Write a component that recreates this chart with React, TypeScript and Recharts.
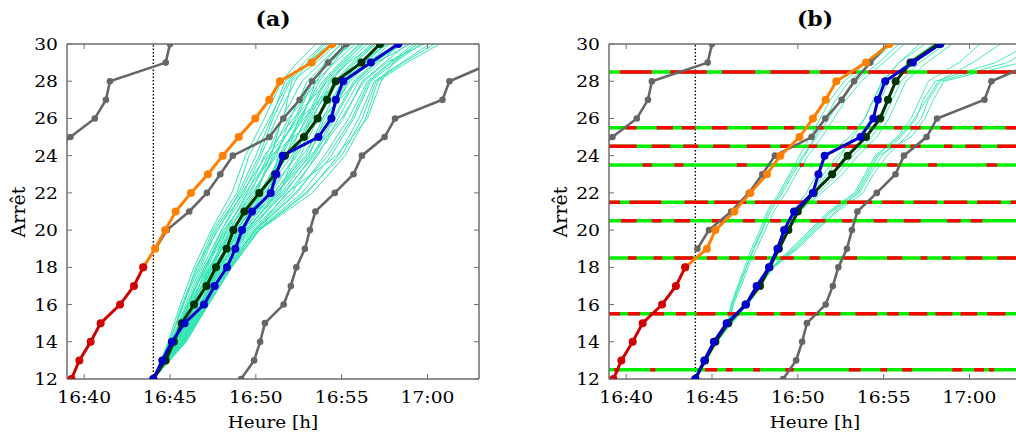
import React from 'react';
import { LineChart, Line, XAxis, YAxis } from 'recharts';

// ---------- data ----------
const ALL_STOPS = [12, 13, 14, 15, 16, 17, 18, 19, 20, 21, 22, 23, 24, 25, 26, 27, 28, 29, 30];
const STOP_TICKS = [12, 14, 16, 18, 20, 22, 24, 26, 28, 30];
const TIME_TICKS = [40, 45, 50, 55, 60]; // minutes after 16:00
const NOW = 44.03;

const GREY_LEFT_STOPS = [24, 25, 26, 27, 28, 29, 30];
const GREY_LEFT = [37.9, 39.2, 40.62, 41.27, 41.5, 44.75, 45.0];
const GREY_MID_STOPS = [19, 20, 21, 22, 23, 24, 25, 26, 27, 28, 29, 30];
const GREY_MID = [44.15, 44.82, 46.12, 47.15, 47.93, 48.66, 50.8, 51.6, 52.55, 53.28, 54.22, 55.27];
const GREY_RIGHT_STOPS = [12, 13, 14, 15, 16, 17, 18, 19, 20, 21, 22, 23, 24, 25, 26, 27, 28, 29];
const GREY_RIGHT = [49.14, 49.9, 50.25, 50.53, 51.62, 52.04, 52.36, 52.86, 53.15, 53.47, 54.6, 55.69, 56.18, 57.5, 58.11, 60.87, 61.28, 63.8];

const RED_STOPS = [12, 13, 14, 15, 16, 17, 18];
const RED_TIMES = [39.26, 39.72, 40.38, 40.96, 42.09, 42.9, 43.44];
const ORANGE_STOPS = [18, 19, 20, 21, 22, 23, 24, 25, 26, 27, 28, 29, 30];
const ORANGE_A = [43.44, 44.13, 44.72, 45.33, 46.22, 47.21, 48.07, 49.0, 49.97, 50.78, 51.4, 53.25, 54.45];
const ORANGE_B = [43.44, 44.7, 45.2, 46.3, 47.23, 48.2, 48.98, 50.1, 50.88, 51.62, 52.24, 53.97, 55.34];

const BLUE_TIMES = [44.03, 44.55, 45.11, 45.85, 46.98, 47.6, 48.32, 48.81, 49.2, 49.78, 50.87, 51.2, 51.56, 53.65, 54.4, 54.66, 55.09, 56.7, 58.3];
const BLACK_A = [44.03, 44.75, 45.23, 45.68, 46.4, 47.13, 47.68, 48.3, 48.69, 49.33, 50.2, 51.12, 51.7, 52.8, 53.6, 54.15, 54.65, 56.15, 57.23];
const BLACK_B = [44.03, 44.6, 45.2, 45.95, 46.95, 47.8, 48.35, 48.9, 49.45, 50.0, 50.93, 52.0, 52.9, 53.97, 54.8, 55.25, 55.7, 56.56, 58.15];

const TEAL_A_STOPS = [12, 14, 16, 18, 20, 22, 24, 26, 28, 29, 30];
const TEAL_A = [
  [44.03, 44.9, 45.6, 46.4, 47.4, 48.6, 49.4, 50.5, 51.5, 52.4, 53.5],
  [44.03, 45.0, 45.7, 46.6, 47.5, 48.9, 49.6, 50.8, 51.9, 52.8, 53.9],
  [44.03, 44.95, 45.8, 46.5, 47.8, 49.0, 50.0, 50.9, 51.7, 53.1, 54.2],
  [44.03, 45.1, 45.9, 46.8, 47.7, 49.3, 50.3, 51.2, 52.3, 53.0, 54.4],
  [44.03, 45.05, 46.0, 46.9, 48.0, 49.2, 50.6, 51.6, 52.1, 53.5, 54.7],
  [44.03, 45.2, 46.1, 47.0, 48.2, 49.6, 50.9, 51.5, 52.7, 53.8, 55.0],
  [44.03, 45.15, 46.2, 47.2, 48.1, 49.8, 51.2, 52.0, 53.0, 54.1, 55.3],
  [44.03, 45.3, 46.3, 47.1, 48.4, 50.0, 51.0, 52.4, 53.3, 54.3, 55.6],
  [44.03, 45.25, 46.3, 47.4, 48.6, 50.2, 51.5, 52.7, 53.5, 54.6, 55.8],
  [44.03, 45.4, 46.4, 47.5, 48.5, 50.4, 51.8, 52.5, 53.9, 54.9, 56.0],
  [44.03, 45.35, 46.5, 47.3, 48.8, 50.6, 51.7, 53.0, 54.1, 55.1, 56.3],
  [44.03, 45.5, 46.6, 47.6, 48.9, 50.5, 52.1, 53.3, 54.4, 55.3, 56.5],
  [44.03, 45.45, 46.5, 47.7, 49.1, 50.9, 52.3, 53.2, 54.6, 55.6, 56.7],
  [44.03, 45.6, 46.7, 47.8, 49.0, 51.1, 52.6, 53.6, 54.8, 55.8, 57.0],
  [44.03, 45.55, 46.8, 47.9, 49.3, 51.0, 52.9, 53.9, 55.0, 56.1, 57.3],
  [44.03, 45.7, 46.9, 48.0, 49.4, 51.3, 52.7, 54.2, 55.3, 56.3, 57.5],
  [44.03, 45.65, 46.8, 48.1, 49.6, 51.5, 53.1, 54.0, 55.5, 56.6, 57.8],
  [44.03, 45.75, 47.0, 48.2, 49.5, 51.7, 53.3, 54.5, 55.7, 56.9, 58.1],
  [44.03, 45.8, 47.1, 48.3, 49.8, 51.9, 53.6, 54.8, 56.0, 57.2, 58.4],
  [44.03, 45.85, 47.0, 48.4, 49.9, 52.1, 53.5, 55.1, 56.2, 57.5, 58.8],
  [44.03, 45.9, 47.2, 48.5, 50.0, 52.4, 54.0, 55.4, 56.5, 57.8, 59.2],
  [44.03, 45.8, 47.15, 48.6, 50.1, 52.7, 54.4, 55.7, 56.7, 58.1, 59.6],
  [44.03, 45.9, 47.2, 48.5, 50.2, 53.0, 54.8, 56.0, 56.9, 58.5, 60.1],
  [44.03, 45.95, 47.25, 48.6, 50.2, 53.3, 55.2, 56.4, 57.1, 58.8, 60.7],
  [44.03, 45.2, 46.2, 47.5, 48.9, 50.1, 50.8, 51.9, 53.6, 54.0, 54.9],
  [44.03, 45.4, 46.6, 47.4, 48.3, 49.5, 50.5, 52.2, 54.2, 55.4, 56.9],
  [44.03, 45.3, 46.4, 47.6, 49.2, 50.8, 51.3, 52.8, 54.9, 56.4, 58.3],
  [44.03, 45.6, 46.9, 47.9, 48.7, 50.3, 51.6, 53.8, 55.9, 57.0, 59.0],
  [44.03, 45.1, 46.0, 47.1, 48.0, 49.4, 50.9, 53.5, 55.2, 56.8, 58.6],
  [44.03, 45.7, 47.1, 48.3, 50.0, 51.8, 54.7, 56.5, 57.3, 58.0, 59.4],
  [44.03, 45.0, 45.75, 46.7, 47.6, 49.1, 50.2, 51.0, 52.0, 53.0, 54.0],
  [44.03, 45.2, 46.05, 47.0, 48.3, 49.9, 51.1, 52.3, 53.2, 54.2, 55.5],
  [44.03, 45.3, 46.35, 47.3, 48.7, 50.3, 51.9, 52.9, 54.0, 55.0, 56.1],
  [44.03, 45.45, 46.6, 47.65, 49.0, 50.7, 52.4, 53.5, 54.7, 55.7, 56.9],
  [44.03, 45.6, 46.75, 47.85, 49.2, 51.2, 53.0, 54.3, 55.4, 56.4, 57.6],
  [44.03, 45.75, 46.95, 48.15, 49.7, 51.6, 53.4, 54.6, 55.8, 57.0, 58.2],
  [44.03, 45.85, 47.1, 48.45, 49.95, 52.3, 54.2, 55.6, 56.6, 57.9, 59.4],
  [44.03, 45.5, 46.7, 47.9, 49.4, 51.4, 52.2, 53.1, 54.3, 55.2, 56.2],
  [44.03, 45.35, 46.45, 47.6, 48.9, 50.4, 51.4, 52.6, 53.7, 54.5, 55.4],
  [44.03, 45.65, 46.9, 48.0, 49.5, 51.2, 53.2, 55.0, 56.3, 57.6, 59.8],
  [44.03, 45.9, 47.2, 48.55, 50.15, 52.9, 55.0, 56.2, 57.0, 58.6, 60.4],
  [44.03, 45.15, 46.1, 47.3, 48.5, 49.7, 50.7, 52.6, 54.8, 56.0, 57.7],
];

const TEAL_B = [
  [44.03, 44.58, 45.15, 45.95, 46.95, 47.65, 48.3, 48.85, 49.3, 49.75, 50.8, 51.5, 52.3, 53.5, 54.3, 54.8, 55.3, 56.4, 57.9],
  [44.03, 44.62, 45.22, 46.02, 47.05, 47.75, 48.4, 48.9, 49.42, 49.9, 51.0, 51.9, 52.8, 53.9, 54.7, 55.2, 55.7, 56.8, 58.2],
  [44.03, 44.55, 45.1, 45.9, 46.9, 47.6, 48.25, 48.78, 49.25, 49.7, 50.5, 51.1, 51.7, 53.0, 53.9, 54.4, 54.9, 55.9, 57.4],
  [44.03, 44.68, 45.3, 46.1, 47.1, 47.85, 48.45, 48.98, 49.5, 50.05, 51.2, 52.3, 53.2, 54.3, 55.0, 55.5, 56.0, 57.1, 58.6],
  [44.03, 44.6, 45.2, 46.2, 47.0, 47.7, 48.35, 48.9, 49.4, 49.95, 50.9, 51.7, 52.5, 53.2, 53.9, 54.4, 55.0, 55.9, 57.1],
  [44.03, 44.65, 45.25, 46.05, 47.08, 47.8, 48.4, 48.95, 49.5, 50.1, 51.4, 52.6, 53.5, 54.6, 55.3, 55.8, 56.3, 57.5, 59.0],
  [44.03, 44.6, 45.2, 45.9, 46.1, 46.5, 46.9, 47.3, 47.8, 48.2, 48.9, 49.5, 50.1, 50.7, 51.3, 51.9, 52.7, 54.0, 55.2],
  [44.03, 44.65, 45.3, 46.0, 46.2, 46.6, 47.0, 47.45, 47.95, 48.4, 49.1, 49.7, 50.4, 51.0, 51.6, 52.2, 53.0, 54.3, 55.5],
  [44.03, 44.6, 45.25, 45.95, 46.15, 46.55, 47.0, 47.4, 47.9, 48.3, 49.0, 49.6, 50.3, 51.1, 51.8, 52.5, 53.4, 54.7, 55.9],
  [44.03, 44.62, 45.22, 46.0, 46.25, 46.7, 47.1, 47.6, 48.1, 48.6, 49.3, 49.9, 50.6, 51.4, 52.1, 52.8, 53.7, 55.0, 56.2],
  [44.03, 44.6, 45.2, 46.0, 47.0, 47.7, 48.5, 49.8, 50.9, 52.0, 53.6, 54.2, 54.9, 56.0, 56.9, 57.3, 58.0, 61.5, 63.5],
  [44.03, 44.65, 45.3, 46.1, 47.1, 47.8, 48.6, 50.0, 51.1, 52.3, 53.8, 54.4, 55.2, 56.3, 57.2, 57.6, 58.3, 62.2, 64.0],
  [44.03, 44.6, 45.25, 46.05, 47.05, 47.75, 48.55, 49.9, 51.0, 52.2, 53.5, 54.1, 54.7, 56.6, 57.4, 57.9, 58.5, 63.0, 65.0],
  [44.03, 44.62, 45.22, 46.0, 47.0, 47.7, 48.45, 49.6, 50.7, 51.8, 53.3, 53.9, 54.5, 55.8, 56.6, 57.1, 57.6, 59.4, 60.6],
  [44.03, 44.6, 45.2, 46.02, 47.02, 47.72, 48.5, 49.7, 50.8, 51.9, 53.4, 54.0, 54.6, 55.9, 56.8, 57.5, 58.2, 60.2, 61.8],
];

// traffic-signal levels (panel b) and their red phases [start, end] in minutes
const SIGNAL_LEVELS = [12.5, 15.5, 18.5, 20.5, 21.5, 23.5, 24.5, 25.5, 28.5];
const RED_12_5 = [[39.3, 39.6], [41.4, 41.7], [44.6, 45.3], [45.8, 46.2], [47.4, 47.8], [49.27, 49.76], [52.97, 53.65], [54.81, 55.2], [56.08, 56.66], [59.0, 59.58], [60.26, 60.84], [61.14, 61.43]];
const RED_15_5 = [[39.0, 39.64], [40.1, 40.8], [41.4, 42.2], [42.9, 43.5], [44.1, 45.2], [45.9, 46.6], [47.6, 48.6], [48.98, 49.85], [50.44, 51.22], [51.6, 52.48], [53.36, 54.62], [55.2, 55.88], [56.47, 57.54], [58.02, 59.0], [59.48, 60.45], [61.04, 62.1]];
const RED_18_5 = [[40.1, 40.6], [41.6, 42.1], [42.8, 43.9], [44.7, 45.3], [46.0, 46.6], [47.5, 48.2], [48.98, 49.76], [50.69, 51.27], [52.68, 53.45], [55.2, 56.08], [57.15, 57.54], [58.41, 58.9], [59.77, 60.75], [61.62, 63.0]];
const RED_20_5 = [[39.7, 40.61], [41.49, 42.06], [42.81, 43.72], [45.0, 45.7], [46.8, 47.5], [48.4, 49.0], [50.73, 51.6], [52.58, 53.16], [54.43, 55.2], [56.17, 57.15], [58.7, 59.48], [60.06, 60.75]];
const RED_21_5 = [[39.0, 39.64], [40.19, 42.04], [43.4, 44.76], [45.14, 46.99], [47.5, 50.34], [51.12, 52.48], [52.87, 54.33], [54.91, 56.17], [56.76, 58.12], [58.51, 59.87], [60.45, 61.82], [62.4, 63.0]];
const RED_23_5 = [[40.96, 41.49], [42.81, 43.33], [46.45, 47.03], [50.1, 50.35], [52.0, 52.5], [55.2, 55.8], [57.6, 58.1], [61.0, 61.6]];
const RED_24_5 = [[39.0, 40.61], [41.49, 42.56], [43.33, 44.2], [45.07, 46.04], [47.02, 48.4], [48.97, 49.76], [50.63, 51.12], [52.48, 53.45], [54.04, 55.2], [55.4, 56.27], [56.56, 57.15], [58.51, 59.0], [59.77, 60.65], [61.62, 63.0]];
const RED_25_5 = [[39.98, 40.6], [41.78, 42.72], [43.25, 44.03], [45.0, 45.9], [47.3, 48.24], [49.2, 49.8], [51.08, 51.5], [52.87, 53.45], [55.6, 56.08], [56.56, 57.15], [58.3, 59.0], [60.26, 60.75], [62.1, 63.0]];
const RED_28_5 = [[39.64, 41.49], [42.56, 44.7], [45.58, 47.52], [48.4, 50.69], [51.28, 53.4], [54.1, 56.37], [57.54, 59.87], [60.45, 63.0]];
const RED_PHASES = [RED_12_5, RED_15_5, RED_18_5, RED_20_5, RED_21_5, RED_23_5, RED_24_5, RED_25_5, RED_28_5];

// ---------- styling ----------
const FONT = '"DejaVu Serif", serif';
const C_AXIS = '#6e6e6e';
const C_GREY = '#666666';
const C_TEAL = '#2fe6b2';
const C_ORANGE = '#ff8000';
const C_RED = '#d00000';
const C_BLUE = '#0000cc';
const C_DARK = '#003300';
const X_DOMAIN = [39, 63];
const Y_DOMAIN = [12, 30];

const pts = (stops: number[], times: number[]) => times.map((t, i) => ({ x: t, y: stops[i] }));
const segData = (lvl: number, segs: number[][]) =>
  segs.flatMap(([a, b]) => [{ x: a, y: lvl }, { x: b, y: lvl }, { x: b, y: null as any }]);
const fmtTime = (m: number) => {
  const h = 16 + Math.floor(m / 60);
  const mm = Math.round(m % 60);
  return `${h}:${mm < 10 ? '0' + mm : mm}`;
};

const TickBottom = (p: any) => (
  <g>
    <line x1={p.x} x2={p.x} y1={p.y} y2={p.y - 5} stroke={C_AXIS} strokeWidth={1} />
    <text transform={`translate(${p.x},${p.y + 24}) scale(1.1,1)`} textAnchor="middle" fontFamily={FONT} fontSize={17} fill="#000">
      {fmtTime(p.payload.value)}
    </text>
  </g>
);
const TickTop = (p: any) => <line x1={p.x} x2={p.x} y1={p.y} y2={p.y + 5} stroke={C_AXIS} strokeWidth={1} />;
const TickLeft = (p: any) => (
  <g>
    <line x1={p.x} x2={p.x + 5} y1={p.y} y2={p.y} stroke={C_AXIS} strokeWidth={1} />
    <text transform={`translate(${p.x - 9},${p.y + 6}) scale(1.1,1)`} textAnchor="end" fontFamily={FONT} fontSize={17} fill="#000">
      {p.payload.value}
    </text>
  </g>
);
const TickRight = (p: any) => <line x1={p.x} x2={p.x - 5} y1={p.y} y2={p.y} stroke={C_AXIS} strokeWidth={1} />;

const thick = (key: string, data: any[], color: string, w = 3, r = 4) => (
  <Line
    key={key}
    data={data}
    dataKey="y"
    type="linear"
    stroke={color}
    strokeWidth={w}
    dot={{ r, fill: color, stroke: color, strokeWidth: 0 }}
    activeDot={false}
    isAnimationActive={false}
  />
);
const thin = (key: string, data: any[], color: string, w: number, extra: any = {}) => (
  <Line key={key} data={data} dataKey="y" type="linear" stroke={color} strokeWidth={w} dot={false} activeDot={false} isAnimationActive={false} {...extra} />
);

function Panel({ left, variant }: { left: number; variant: 'a' | 'b' }) {
  const teal =
    variant === 'a'
      ? TEAL_A.map((t, i) => thin('ta' + i, pts(TEAL_A_STOPS, t), C_TEAL, 1))
      : TEAL_B.map((t, i) => thin('tb' + i, pts(ALL_STOPS, t), C_TEAL, 0.9));
  const signals =
    variant === 'b'
      ? SIGNAL_LEVELS.flatMap((lvl, i) => [
          thin('sg' + i, [{ x: X_DOMAIN[0], y: lvl }, { x: X_DOMAIN[1], y: lvl }], '#00ee00', 3.5),
          thin('sr' + i, segData(lvl, RED_PHASES[i]), '#ff0000', 3.5),
        ])
      : [];
  return (
    <div style={{ position: 'absolute', left, top: 0 }}>
      <LineChart width={500} height={437} margin={{ top: 34, left: 27, right: 11, bottom: 28 }}>
        <XAxis
          dataKey="x"
          type="number"
          domain={X_DOMAIN}
          allowDataOverflow
          ticks={TIME_TICKS}
          interval={0}
          height={30}
          tickSize={0}
          tickMargin={0}
          tickLine={false}
          tick={TickBottom}
          axisLine={{ stroke: C_AXIS, strokeWidth: 1.5 }}
        />
        <XAxis
          xAxisId="top"
          orientation="top"
          dataKey="x"
          type="number"
          domain={X_DOMAIN}
          allowDataOverflow
          ticks={TIME_TICKS}
          interval={0}
          height={10}
          tickSize={0}
          tickMargin={0}
          tickLine={false}
          tick={TickTop}
          axisLine={{ stroke: C_AXIS, strokeWidth: 1.5 }}
        />
        <YAxis
          type="number"
          domain={Y_DOMAIN}
          allowDataOverflow
          ticks={STOP_TICKS}
          interval={0}
          width={40}
          tickSize={0}
          tickMargin={0}
          tickLine={false}
          tick={TickLeft}
          axisLine={{ stroke: C_AXIS, strokeWidth: 1.5 }}
        />
        <YAxis
          yAxisId="right"
          orientation="right"
          type="number"
          domain={Y_DOMAIN}
          allowDataOverflow
          ticks={STOP_TICKS}
          interval={0}
          width={10}
          tickSize={0}
          tickMargin={0}
          tickLine={false}
          tick={TickRight}
          axisLine={{ stroke: C_AXIS, strokeWidth: 1.5 }}
        />
        {thin('now', [{ x: NOW, y: 12 }, { x: NOW, y: 30 }], '#000', 1.4, { strokeDasharray: '1.5 2' })}
        {teal}
        {signals}
        {thick('g1', pts(GREY_LEFT_STOPS, GREY_LEFT), C_GREY, 2.6, 3.3)}
        {thick('g2', pts(GREY_MID_STOPS, GREY_MID), C_GREY, 2.6, 3.3)}
        {thick('g3', pts(GREY_RIGHT_STOPS, GREY_RIGHT), C_GREY, 2.6, 3.3)}
        {thick('or', pts(ORANGE_STOPS, variant === 'a' ? ORANGE_A : ORANGE_B), C_ORANGE)}
        {thick('rd', pts(RED_STOPS, RED_TIMES), C_RED)}
        {thick('bk', pts(ALL_STOPS, variant === 'a' ? BLACK_A : BLACK_B), C_DARK)}
        {thick('bl', pts(ALL_STOPS, BLUE_TIMES), C_BLUE)}
      </LineChart>
    </div>
  );
}

export default function App() {
  const labels = (cx: number, ax: number, title: string) => (
    <g key={title}>
      <text transform={`translate(${cx},26) scale(1.1,1)`} textAnchor="middle" fontFamily={FONT} fontSize={20} fontWeight="bold" fill="#000">
        {title}
      </text>
      <text transform={`translate(${cx},428) scale(1.08,1)`} textAnchor="middle" fontFamily={FONT} fontSize={17} fill="#000">
        Heure [h]
      </text>
      <text transform={`translate(${ax},212) rotate(-90)`} textAnchor="middle" fontFamily={FONT} fontSize={19} fill="#000">
        Arrêt
      </text>
    </g>
  );
  return (
    <div style={{ position: 'fixed', left: 0, top: 0, width: 1016, height: 437, overflow: 'hidden', background: '#fff' }}>
      <Panel left={0} variant="a" />
      <Panel left={542} variant="b" />
      <svg width={1016} height={437} style={{ position: 'absolute', left: 0, top: 0, pointerEvents: 'none' }}>
        {labels(273, 25, '(a)')}
        {labels(815, 567, '(b)')}
      </svg>
    </div>
  );
}
